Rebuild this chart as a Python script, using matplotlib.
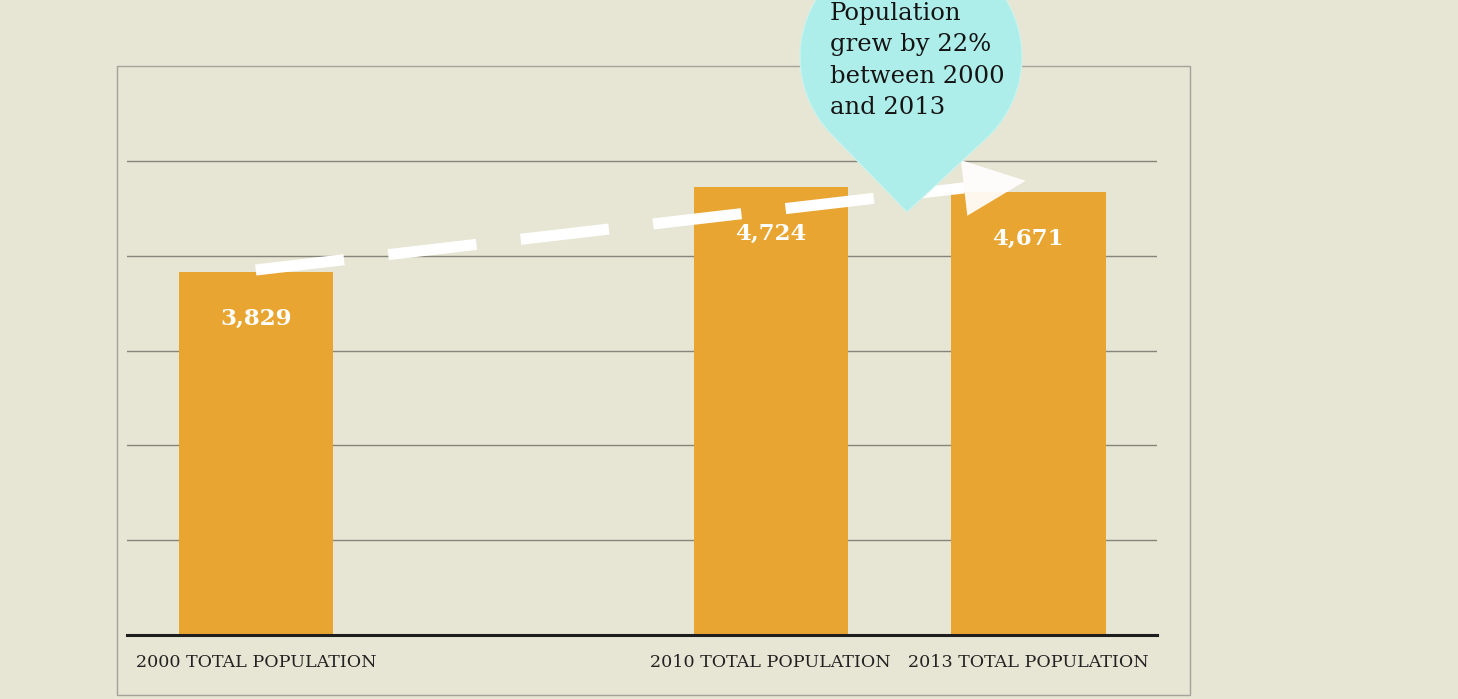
import numpy as np
import matplotlib
matplotlib.use('Agg')
import matplotlib.pyplot as plt
from matplotlib.patches import Rectangle, Polygon

# data
categories = ['2000 TOTAL POPULATION', '', '2010 TOTAL POPULATION', '2013 TOTAL POPULATION']
positions = [0, 2, 3]
values = [3829, 4724, 4671]
value_labels = ['3,829', '4,724', '4,671']
callout_lines = ['Population', 'grew by 22%', 'between 2000', 'and 2013']

BG = '#e7e5d3'
BAR = '#e9a531'
BUBBLE = '#aeeeea'
plt.rcParams['font.family'] = ['DejaVu Serif']

W, H = 1458, 699
fig = plt.figure(figsize=(W / 100, H / 100), dpi=100, facecolor=BG)
ax = fig.add_axes([127 / W, (H - 635) / H, (1157 - 127) / W, (635 - 66) / H])
ax.set_facecolor(BG)

ax.bar(positions, values, width=0.6, color=BAR, zorder=2)
ax.set_xlim(-0.5, 3.5)
ax.set_ylim(0, 6000)
for y in range(1000, 6000, 1000):
    ax.axhline(y, color='#85857c', lw=1.0, zorder=1)
ax.axhline(0, color='#1e1e1e', lw=2.2, zorder=3, clip_on=False)
for s in ax.spines.values():
    s.set_visible(False)
ax.set_yticks([])
ax.set_xticks(range(len(categories)))
ax.set_xticklabels(categories, fontsize=12.6, color='#222222')
ax.tick_params(axis='x', length=0, pad=14)

for x, v, lab in zip(positions, values, value_labels):
    ax.text(x, v - 495, lab, ha='center', va='center', color='white',
            fontsize=16.5, fontweight='bold', zorder=4)

# outer frame
fig.patches.append(Rectangle((117 / W, (H - 695) / H), (1190 - 117) / W, (695 - 66) / H,
                             transform=fig.transFigure, fill=False, ec='#a3a39c', lw=1.0))

# dashed arrow (data coords -> pixel for the head)
start = (positions[0], values[0] + 20)
tip = (positions[2] - 0.01, 4790)
p0 = ax.transData.transform(start)
p1 = ax.transData.transform(tip)
d = (p1 - p0) / np.hypot(*(p1 - p0))
nrm = np.array([-d[1], d[0]])
base = p1 - d * 62
inv = ax.transData.inverted()
b_data = inv.transform(base)
ax.plot([start[0], b_data[0]], [start[1], b_data[1]], color='white', lw=8.0,
        dashes=(8.0, 4.0), dash_capstyle='butt', zorder=5, clip_on=False)
head = inv.transform(np.array([p1, base + nrm * 28, base - nrm * 28]))
ax.add_patch(Polygon(head, closed=True, fc='white', ec='none', alpha=0.92,
                     zorder=7, clip_on=False))

# callout teardrop (figure inches)
cx, cy, r = 911 / 100, (H - 57) / 100, 111 / 100
px, py = 907 / 100, (H - 212) / 100
dist = np.hypot(px - cx, py - cy)
ang_p = np.arctan2(py - cy, px - cx)
half = np.arccos(r / dist)
t = np.linspace(ang_p + half, ang_p - half + 2 * np.pi, 200)
pts = np.column_stack([cx + r * np.cos(t), cy + r * np.sin(t)])
pts = np.vstack([pts, [px, py]])
fig.patches.append(Polygon(pts, closed=True, transform=fig.dpi_scale_trans,
                           fc=BUBBLE, ec='#cdf3ee', lw=0.8, zorder=6))
for i, line in enumerate(callout_lines):
    fig.text(830 / W, (H - 20 - 31.5 * i) / H, line, ha='left', va='baseline',
             fontsize=17.5, color='#141414', zorder=8)

fig.savefig('out.png', dpi=100, facecolor=BG)
